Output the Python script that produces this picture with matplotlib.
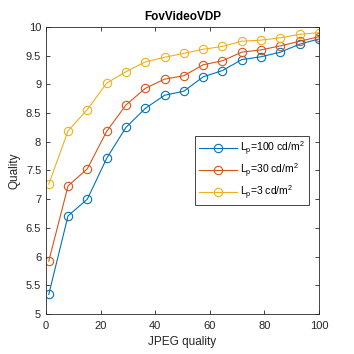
import matplotlib
matplotlib.use("Agg")
import matplotlib.pyplot as plt

plt.rcParams['font.family'] = ['Liberation Sans', 'DejaVu Sans']

jpeg_quality = [1, 8.07, 15.14, 22.21, 29.29, 36.36, 43.43, 50.5, 57.57, 64.64, 71.71, 78.79, 85.86, 92.93, 100]
q_100 = [5.34, 6.71, 7.00, 7.71, 8.25, 8.58, 8.81, 8.88, 9.13, 9.24, 9.43, 9.48, 9.56, 9.70, 9.79]
q_30 = [5.92, 7.23, 7.53, 8.18, 8.64, 8.93, 9.09, 9.15, 9.34, 9.41, 9.56, 9.60, 9.67, 9.75, 9.83]
q_3 = [7.26, 8.19, 8.56, 9.02, 9.22, 9.39, 9.47, 9.54, 9.61, 9.66, 9.75, 9.77, 9.81, 9.87, 9.90]
labels = ['L$_\\mathregular{p}$=100 cd/m$^\\mathregular{2}$',
          'L$_\\mathregular{p}$=30 cd/m$^\\mathregular{2}$',
          'L$_\\mathregular{p}$=3 cd/m$^\\mathregular{2}$']
colors = ['#0072BD', '#D95319', '#EDB120']

fig = plt.figure(figsize=(3.54, 3.54), dpi=100)
ax = fig.add_axes([0.130, 0.113, 0.771, 0.811])
for ys, c, lab in zip([q_100, q_30, q_3], colors, labels):
    ax.plot(jpeg_quality, ys, color=c, lw=0.8, marker='o', ms=6.0,
            mfc='none', mec=c, mew=0.8, label=lab)

ax.set_xlim(0, 100)
ax.set_ylim(5, 10)
ax.set_xticks([0, 20, 40, 60, 80, 100])
ax.set_yticks([5, 5.5, 6, 6.5, 7, 7.5, 8, 8.5, 9, 9.5, 10])
ax.set_yticklabels(['5', '5.5', '6', '6.5', '7', '7.5', '8', '8.5', '9', '9.5', '10'])
ax.tick_params(direction='in', top=True, right=True, labelsize=8, colors='#262626',
               length=3, width=0.6)
ax.tick_params(axis='x', pad=5)
for s in ax.spines.values():
    s.set_color('#262626')
    s.set_linewidth(0.6)
ax.set_xlabel('JPEG quality', fontsize=8.5, color='#262626', labelpad=4)
ax.set_ylabel('Quality', fontsize=8.5, color='#262626', labelpad=4)
ax.set_title('FovVideoVDP', fontsize=8.5, fontweight='bold', pad=5)

leg = ax.legend(loc='upper left', bbox_to_anchor=(0.546, 0.62), fontsize=7.5,
                frameon=True, fancybox=False, edgecolor='#262626', framealpha=1,
                borderpad=0.35, borderaxespad=0, handlelength=3.7, labelspacing=0.35,
                handletextpad=0.3)
leg.get_frame().set_linewidth(0.6)

fig.savefig('out.png', dpi=100)
